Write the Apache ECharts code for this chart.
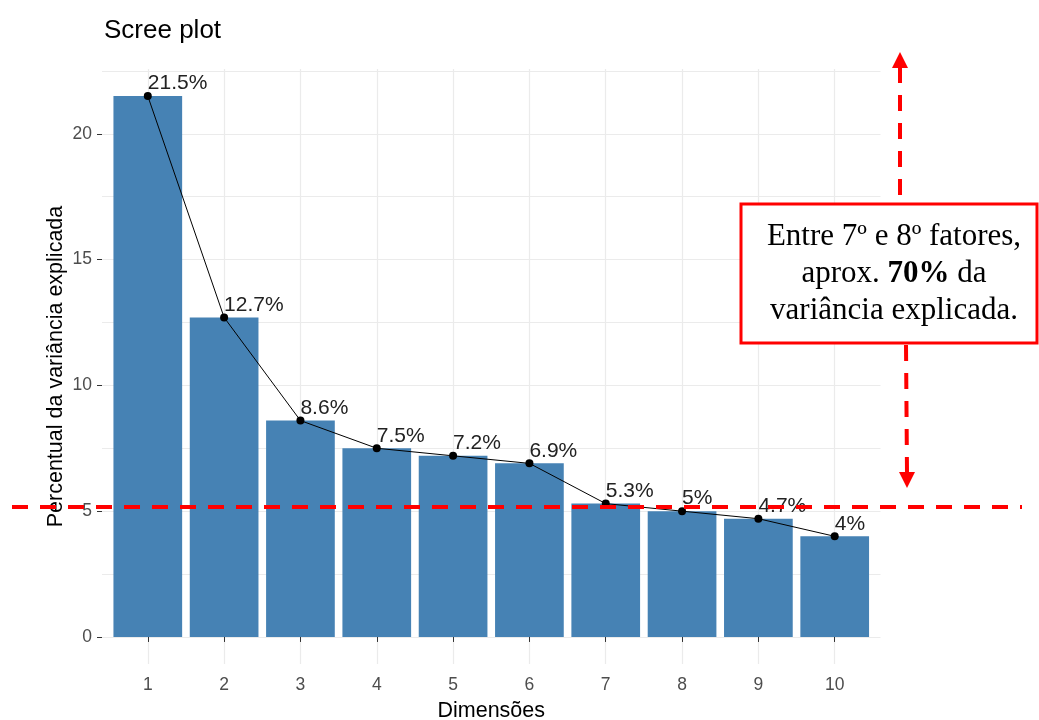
<!DOCTYPE html>
<html>
<head>
<meta charset="utf-8">
<script src="https://cdn.jsdelivr.net/npm/echarts@6/dist/echarts.min.js"></script>
<style>
html,body{margin:0;padding:0;background:#fff;}
#c{width:1039px;height:720px;}
</style>
</head>
<body>
<div id="c"></div>
<script>
var dims = [1, 2, 3, 4, 5, 6, 7, 8, 9, 10];
var variance = [21.5, 12.7, 8.6, 7.5, 7.2, 6.9, 5.3, 5.0, 4.7, 4.0];
var yMajorTicks = [0, 5, 10, 15, 20];
var yMinorTicks = [2.5, 7.5, 12.5, 17.5, 22.5];
var cutoffValue = 5.17;

var pts = dims.map(function (d, i) { return [d, variance[i]]; });
var gridLines = yMajorTicks.concat(yMinorTicks).map(function (v) { return { yAxis: v }; })
  .concat(dims.map(function (d) { return { xAxis: d }; }));

var chart = echarts.init(document.getElementById('c'), null, { renderer: 'canvas' });
var FONT = '"Liberation Sans", Arial, sans-serif';
var yMin = -1.075, yMax = 22.575;

chart.setOption({
  backgroundColor: '#ffffff',
  animation: false,
  title: {
    text: 'Scree plot',
    left: 99,
    top: 13,
    textStyle: { fontFamily: FONT, fontSize: 26, fontWeight: 'normal', color: '#000' }
  },
  grid: { left: 102, right: 158.5, top: 69, bottom: 56, containLabel: false, outerBoundsMode: 'none' },
  xAxis: {
    type: 'value',
    min: 0.4,
    max: 10.6,
    interval: 10.2,
    name: 'Dimensões',
    nameLocation: 'middle',
    nameGap: 36,
    nameTextStyle: { fontFamily: FONT, fontSize: 21.5, color: '#000' },
    axisLine: { show: false },
    axisTick: { show: true, length: 5, customValues: dims, lineStyle: { color: '#333', width: 1 } },
    axisLabel: { customValues: dims, margin: 12, fontFamily: FONT, fontSize: 17.5, color: '#4d4d4d' },
    splitLine: { show: false }
  },
  yAxis: {
    type: 'value',
    min: yMin,
    max: yMax,
    interval: yMax - yMin,
    name: 'Percentual da variância explicada',
    nameLocation: 'middle',
    nameGap: 35,
    nameMoveOverlap: false,
    nameTextStyle: { fontFamily: FONT, fontSize: 21.5, color: '#000' },
    axisLine: { show: false },
    axisTick: { show: true, length: 5, customValues: yMajorTicks, lineStyle: { color: '#333', width: 1 } },
    axisLabel: { customValues: yMajorTicks, margin: 10, fontFamily: FONT, fontSize: 17.5, color: '#4d4d4d' },
    splitLine: { show: false }
  },
  series: [
    {
      type: 'line',
      data: [],
      z: 0,
      silent: true,
      markLine: {
        silent: true,
        z: 0,
        symbol: 'none',
        label: { show: false },
        lineStyle: { color: '#ebebeb', type: 'solid', width: 1.2 },
        animation: false,
        data: gridLines
      }
    },
    {
      type: 'bar',
      data: pts,
      barWidth: 68.7,
      itemStyle: { color: '#4682B4' },
      z: 2,
      silent: true
    },
    {
      type: 'line',
      data: pts,
      z: 3,
      symbol: 'circle',
      symbolSize: 8,
      itemStyle: { color: '#000', borderWidth: 0 },
      lineStyle: { color: '#000', width: 1 },
      label: {
        show: true,
        position: [4, 2],
        align: 'left',
        verticalAlign: 'bottom',
        fontFamily: FONT,
        fontSize: 21,
        color: '#222',
        formatter: function (p) { return p.value[1] + '%'; }
      },
      silent: true
    }
  ]
});

var yCut = chart.convertToPixel({ yAxisIndex: 0 }, cutoffValue);
var RED = '#ff0000';
chart.setOption({
  graphic: [
    { type: 'line', z: 10, shape: { x1: 12, y1: yCut, x2: 1022, y2: yCut },
      style: { stroke: RED, lineWidth: 4, lineDash: [16, 12] } },
    { type: 'line', z: 10, shape: { x1: 900, y1: 195, x2: 900, y2: 66 },
      style: { stroke: RED, lineWidth: 4, lineDash: [16, 12] } },
    { type: 'polygon', z: 10, shape: { points: [[900, 52], [892, 68], [908, 68]] },
      style: { fill: RED } },
    { type: 'line', z: 10, shape: { x1: 906, y1: 345, x2: 907, y2: 473 },
      style: { stroke: RED, lineWidth: 4, lineDash: [16, 12] } },
    { type: 'polygon', z: 10, shape: { points: [[907, 488], [899, 472], [915, 472]] },
      style: { fill: RED } },
    { type: 'rect', z: 11, shape: { x: 741, y: 204, width: 296, height: 139 },
      style: { fill: '#fff', stroke: RED, lineWidth: 3 } },
    { type: 'text', z: 12, x: 894, y: 274,
      style: {
        text: '{n|Entre 7º e 8º fatores,}\n{n|aprox. }{b|70%}{n| da}\n{n|variância explicada.}',
        align: 'center',
        verticalAlign: 'middle',
        fill: '#000',
        rich: {
          n: { fontFamily: '"Liberation Serif", "Times New Roman", serif', fontSize: 31, lineHeight: 37, fill: '#000' },
          b: { fontFamily: '"Liberation Serif", "Times New Roman", serif', fontSize: 31, lineHeight: 37, fontWeight: 'bold', fill: '#000' }
        }
      }
    }
  ]
});
</script>
</body>
</html>
